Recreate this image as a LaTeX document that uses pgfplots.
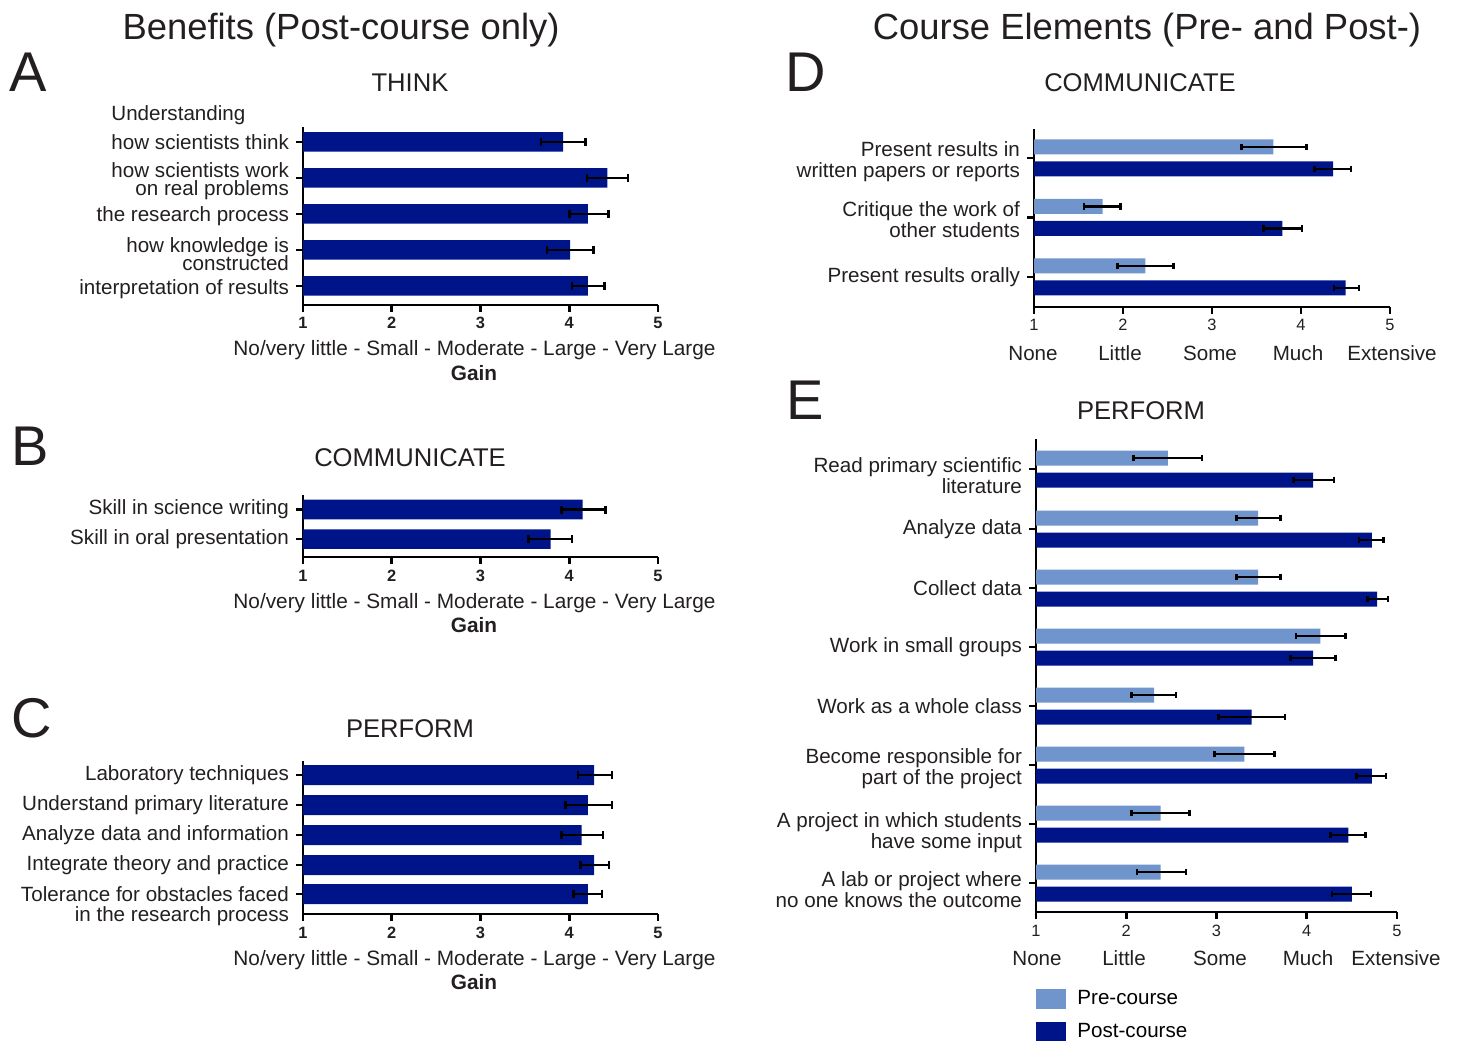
\documentclass[border=0pt]{standalone}
\usepackage{fontspec}
\setmainfont{Liberation Sans}
\usepackage{pgfplots}
\pgfplotsset{compat=1.18}
\definecolor{navy}{RGB}{0,20,137}
\definecolor{lblue}{RGB}{112,148,204}
\definecolor{txt}{RGB}{35,31,32}
\newcommand{\fs}[2]{\fontsize{#1}{#2}\selectfont}
% two-line right-aligned label, lowered by #1, line distance #2
\newcommand{\TL}[4]{\raisebox{#1}[\height][\depth]{\vbox{\baselineskip=#2\lineskiplimit=-100pt\lineskip=0pt\halign{\hfil##\cr #3\cr #4\cr}}}}
\newcommand{\RL}[2]{\raisebox{#1}[\height][\depth]{#2}}
\pgfplotsset{
  panel/.style={
    scale only axis, clip=true,
    xmin=1, xmax=5, xtick={1,2,3,4,5},
    axis x line=bottom, axis y line=left,
    axis line style={line width=1.4pt, -, black},
    tick style={line width=1.4pt, black},
    major tick length=3.5pt,
    tick align=outside,
    xbar, enlargelimits=false,
    /pgf/number format/assume math mode=true,
    y tick label style={font=\fs{10.3}{10.5}, align=right, text=txt},
    x tick label style={font=\fs{8.2}{8.2}, text=txt, anchor=base, yshift=-8.5pt},
  },
  eb/.style={error bars/.cd, x dir=both, x explicit, error mark=|,
    error bar style={line width=1.3pt, black},
    error mark options={line width=1.3pt, black, mark size=2pt}},
  ebs/.style={error bars/.cd, x dir=both, x explicit, error mark=|,
    error bar style={line width=1.3pt, black},
    error mark options={line width=1.3pt, black, mark size=1.7pt}},
}
\begin{document}
\begin{tikzpicture}
\path[use as bounding box] (0,0) rectangle (729.5pt,520pt);
\begin{scope}[x=0.5pt,y=-0.5pt,shift={(0pt,520pt)}, every node/.style={text=txt}]
% main titles
\node[font=\fs{18.2}{20}, anchor=base] at (341,40) {Benefits (Post-course only)};
\node[font=\fs{18.2}{20}, anchor=base] at (1147,40) {Course Elements (Pre- and Post-)};
% panel letters
\node[font=\fs{28}{30}, anchor=base west, inner sep=0pt] at (9,92) {A};
\node[font=\fs{28}{30}, anchor=base west, inner sep=0pt] at (11,465) {B};
\node[font=\fs{28}{30}, anchor=base west, inner sep=0pt] at (11,737) {C};
\node[font=\fs{28}{30}, anchor=base west, inner sep=0pt] at (785,92) {D};
\node[font=\fs{28}{30}, anchor=base west, inner sep=0pt] at (786,420) {E};
% panel titles
\node[font=\fs{12.8}{14}, anchor=base] at (410,92) {THINK};
\node[font=\fs{12.8}{14}, anchor=base] at (410,466) {COMMUNICATE};
\node[font=\fs{12.8}{14}, anchor=base] at (410,737) {PERFORM};
\node[font=\fs{12.8}{14}, anchor=base] at (1140,92) {COMMUNICATE};
\node[font=\fs{12.8}{14}, anchor=base] at (1141,420) {PERFORM};
\node[font=\fs{10.3}{12}, anchor=base west, inner sep=0pt] at (111,121) {Understanding};
% x axis descriptions A-C
\node[font=\fs{10.4}{12}, anchor=base] at (474.5,356) {No/very little - Small - Moderate - Large - Very Large};
\node[font=\bfseries\fs{10.4}{12}, anchor=base] at (474,380) {Gain};
\node[font=\fs{10.4}{12}, anchor=base] at (474.5,608) {No/very little - Small - Moderate - Large - Very Large};
\node[font=\bfseries\fs{10.4}{12}, anchor=base] at (474,632) {Gain};
\node[font=\fs{10.4}{12}, anchor=base] at (474.5,965) {No/very little - Small - Moderate - Large - Very Large};
\node[font=\bfseries\fs{10.4}{12}, anchor=base] at (474,989) {Gain};
% x axis words D
\node[font=\fs{10.3}{12}, anchor=base] at (1033,361) {None};
\node[font=\fs{10.3}{12}, anchor=base] at (1120,361) {Little};
\node[font=\fs{10.3}{12}, anchor=base] at (1210,361) {Some};
\node[font=\fs{10.3}{12}, anchor=base] at (1298,361) {Much};
\node[font=\fs{10.3}{12}, anchor=base] at (1392,361) {Extensive};
% x axis words E
\node[font=\fs{10.3}{12}, anchor=base] at (1037,965) {None};
\node[font=\fs{10.3}{12}, anchor=base] at (1124,965) {Little};
\node[font=\fs{10.3}{12}, anchor=base] at (1220,965) {Some};
\node[font=\fs{10.3}{12}, anchor=base] at (1308,965) {Much};
\node[font=\fs{10.3}{12}, anchor=base] at (1396,965) {Extensive};
\end{scope}

% ---------------- A ----------------
\begin{axis}[panel, at={(151.5pt,367.5pt)}, anchor=south west,
  width=177.5pt, height=89pt, ymin=-305, ymax=-127,
  ytick={-286,-250,-214,-178,-142},
  yticklabels={\RL{-1.5pt}{interpretation of results},\TL{-2.1pt}{9pt}{how knowledge is}{constructed},\RL{-1pt}{the research process},\TL{-1.8pt}{9pt}{how scientists work}{on real problems},how scientists think},
  x tick label style={font=\bfseries\fs{8.2}{8.2}}]
\addplot[fill=navy, draw=none, bar width=19.5, bar shift=0pt, eb] coordinates {
 (3.93,-142) += (0.25,0) -= (0.25,0)
 (4.43,-178) += (0.23,0) -= (0.23,0)
 (4.21,-214) += (0.23,0) -= (0.21,0)
 (4.01,-250) += (0.26,0) -= (0.26,0)
 (4.21,-286) += (0.19,0) -= (0.18,0)
};
\end{axis}

% ---------------- B ----------------
\begin{axis}[panel, at={(151.5pt,241.5pt)}, anchor=south west,
  width=177.5pt, height=31pt, ymin=-557, ymax=-495,
  ytick={-539,-509.5},
  yticklabels={Skill in oral presentation,Skill in science writing},
  x tick label style={font=\bfseries\fs{8.2}{8.2}}]
\addplot[fill=navy, draw=none, bar width=19.5, bar shift=0pt, eb] coordinates {
 (4.15,-509.5) += (0.26,0) -= (0.24,0)
 (3.79,-539) += (0.24,0) -= (0.25,0)
};
\end{axis}

% ---------------- C ----------------
\begin{axis}[panel, at={(151.5pt,63pt)}, anchor=south west,
  width=177.5pt, height=76.5pt, ymin=-914, ymax=-761,
  ytick={-894,-865,-835,-805,-775},
  yticklabels={\TL{-6.1pt}{10.2pt}{Tolerance for obstacles faced}{in the research process},Integrate theory and practice,Analyze data and information,Understand primary literature,Laboratory techniques},
  x tick label style={font=\bfseries\fs{8.2}{8.2}}]
\addplot[fill=navy, draw=none, bar width=20, bar shift=0pt, eb] coordinates {
 (4.28,-775) += (0.20,0) -= (0.18,0)
 (4.21,-805) += (0.27,0) -= (0.25,0)
 (4.14,-835) += (0.24,0) -= (0.23,0)
 (4.28,-865) += (0.17,0) -= (0.15,0)
 (4.21,-894) += (0.16,0) -= (0.16,0)
};
\end{axis}

% ---------------- D ----------------
\begin{axis}[panel, at={(517pt,366.5pt)}, anchor=south west,
  width=178pt, height=89pt, ymin=-307, ymax=-129,
  ytick={-277,-217.5,-158},
  yticklabels={Present results orally,\TL{-1pt}{10.5pt}{Critique the work of}{other students},\TL{-1.9pt}{10.5pt}{Present results in}{written papers or reports}}]
\addplot[fill=lblue, draw=none, bar width=15, bar shift=0pt, ebs] coordinates {
 (3.69,-147) += (0.37,0) -= (0.36,0)
 (1.77,-206.5) += (0.20,0) -= (0.21,0)
 (2.25,-266) += (0.32,0) -= (0.31,0)
};
\addplot[fill=navy, draw=none, bar width=15, bar shift=0pt, ebs] coordinates {
 (4.36,-169) += (0.20,0) -= (0.21,0)
 (3.79,-228.5) += (0.22,0) -= (0.21,0)
 (4.50,-288) += (0.15,0) -= (0.13,0)
};
\end{axis}

% ---------------- E ----------------
\begin{axis}[panel, at={(518pt,64pt)}, anchor=south west,
  width=180.5pt, height=236.5pt, ymin=-912, ymax=-439,
  ytick={-883,-824,-765,-706,-647,-588,-529,-469},
  yticklabels={\TL{-3.5pt}{10.5pt}{A lab or project where}{no one knows the outcome},\TL{-4.5pt}{10.5pt}{A project in which students}{have some input},\TL{-1.8pt}{10.5pt}{Become responsible for}{part of the project},Work as a whole class,Work in small groups,Collect data,Analyze data,\TL{-3.5pt}{10.5pt}{Read primary scientific}{literature}},
  legend style={at={(axis description cs:0,0)}, anchor=north west, yshift=-37pt,
    draw=none, fill=none, inner sep=0pt, font=\fs{10.3}{12}, row sep=4pt},
  legend cell align=left]
\addplot[fill=lblue, draw=none, bar width=15, bar shift=0pt,
  legend image code/.code={\fill[lblue] (0pt,-5pt) rectangle (15pt,5pt); \path (18.5pt,0pt);}, ebs] coordinates {
 (2.46,-458) += (0.38,0) -= (0.38,0)
 (3.46,-518) += (0.25,0) -= (0.24,0)
 (3.46,-577) += (0.25,0) -= (0.24,0)
 (4.15,-636) += (0.28,0) -= (0.27,0)
 (2.31,-695) += (0.24,0) -= (0.25,0)
 (3.31,-754) += (0.33,0) -= (0.33,0)
 (2.38,-813) += (0.32,0) -= (0.32,0)
 (2.38,-872) += (0.28,0) -= (0.26,0)
};
\addlegendentry{Pre-course}
\addplot[fill=navy, draw=none, bar width=15, bar shift=0pt,
  legend image code/.code={\fill[navy] (0pt,-5pt) rectangle (15pt,5pt); \path (18.5pt,0pt);}, ebs] coordinates {
 (4.07,-480) += (0.23,0) -= (0.22,0)
 (4.72,-540) += (0.13,0) -= (0.14,0)
 (4.78,-599) += (0.12,0) -= (0.11,0)
 (4.07,-658) += (0.25,0) -= (0.25,0)
 (3.39,-717) += (0.37,0) -= (0.37,0)
 (4.72,-776) += (0.16,0) -= (0.17,0)
 (4.46,-835) += (0.19,0) -= (0.20,0)
 (4.50,-894) += (0.21,0) -= (0.22,0)
};
\addlegendentry{Post-course}
\end{axis}
\end{tikzpicture}
\end{document}
